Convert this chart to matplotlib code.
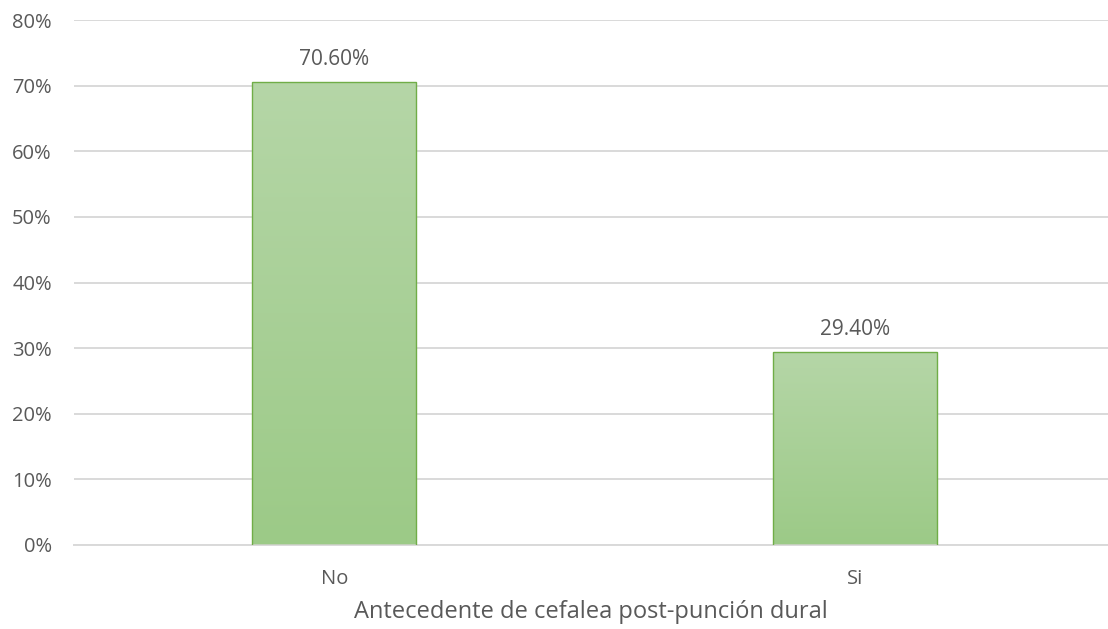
import numpy as np
import matplotlib
matplotlib.use("Agg")
import matplotlib.pyplot as plt
from matplotlib.colors import LinearSegmentedColormap

categories = ["No", "Si"]
values = [70.60, 29.40]
yticks = [0, 10, 20, 30, 40, 50, 60, 70, 80]
xlabel = "Antecedente de cefalea post-punción dural"

plt.rcParams["font.family"] = ["Open Sans", "DejaVu Sans"]
text_color = "#595959"

fig = plt.figure(figsize=(11.08, 6.29), dpi=100)
ax = fig.add_axes([74 / 1108, 84 / 629, 1 - 74 / 1108, 525 / 629])

x = np.arange(len(categories))
bar_width = 0.315
bars = ax.bar(x, values, width=bar_width, facecolor="none",
              edgecolor="#70ad47", linewidth=1.0, zorder=3)

# vertical gradient fill inside each bar
cmap = LinearSegmentedColormap.from_list("grad", ["#9cca87", "#b5d6a7"])
grad = np.linspace(0, 1, 256).reshape(-1, 1)
for rect in bars:
    x0, y0 = rect.get_x(), rect.get_y()
    w, h = rect.get_width(), rect.get_height()
    im = ax.imshow(grad, cmap=cmap, origin="lower", aspect="auto",
                   extent=[x0, x0 + w, y0, y0 + h], zorder=2)
    im.set_clip_path(rect)

for xi, v in zip(x, values):
    ax.annotate(f"{v:.2f}%", xy=(xi, v), xytext=(0, 8.5),
                textcoords="offset points", ha="center", va="bottom",
                fontsize=15, color=text_color)

ax.set_xlim(-0.5, 1.486)
ax.set_ylim(0, 80)
ax.set_yticks(yticks)
ax.set_yticklabels([f"{t}%" for t in yticks])
ax.set_xticks(x)
ax.set_xticklabels(categories)
ax.tick_params(axis="both", length=0, labelsize=14.5, labelcolor=text_color)
ax.tick_params(axis="y", pad=16)
ax.tick_params(axis="x", pad=17.5)
ax.set_xlabel(xlabel, fontsize=17, color=text_color, labelpad=8)

ax.grid(axis="y", color="#d9d9d9", linewidth=1.4, zorder=0)
ax.set_axisbelow(True)
for side in ["top", "right", "left"]:
    ax.spines[side].set_visible(False)
ax.spines["bottom"].set_color("#d9d9d9")
ax.spines["bottom"].set_linewidth(1.4)

fig.savefig("out.png", dpi=100)
